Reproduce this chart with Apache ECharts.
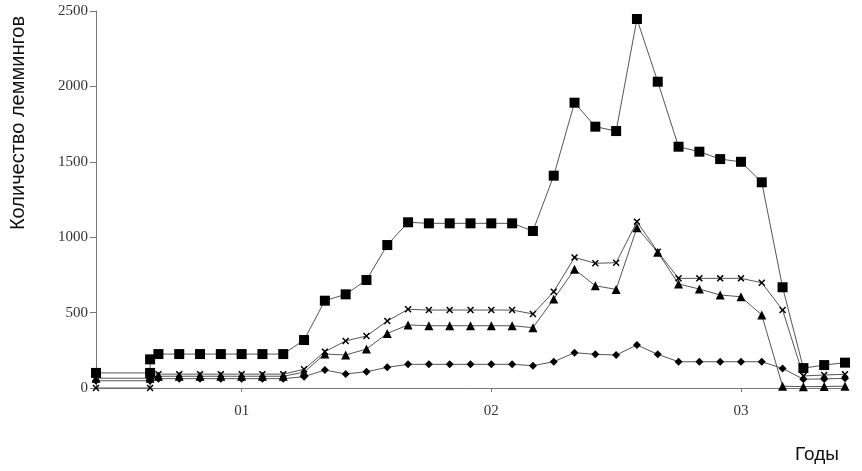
<!DOCTYPE html>
<html>
<head>
<meta charset="utf-8">
<script src="https://cdn.jsdelivr.net/npm/echarts@6/dist/echarts.min.js"></script>
<style>
html,body{margin:0;padding:0;background:#fff;}
#chart{width:862px;height:471px;}
</style>
</head>
<body>
<div id="chart"></div>
<script>
// x positions in months relative to the "01" tick
var months = [-7, -4.4, -4.4, -4, -3, -2, -1, 0, 1, 2, 3, 4, 5, 6, 7, 8, 9, 10, 11, 12, 13, 14, 15, 16, 17, 18, 19, 20, 21, 22, 23, 24, 25, 26, 27, 28, 29];
var squares = [100, 100, 190, 225, 225, 225, 225, 225, 225, 225, 318, 579, 621, 716, 948, 1099, 1092, 1092, 1092, 1092, 1092, 1041, 1408, 1892, 1733, 1704, 2447, 2031, 1600, 1567, 1518, 1500, 1364, 668, 132, 152, 168];
var crosses = [0, 0, 92, 92, 92, 92, 92, 92, 92, 92, 124, 241, 312, 345, 444, 522, 517, 517, 517, 517, 517, 491, 639, 866, 827, 831, 1103, 904, 727, 727, 727, 727, 698, 517, 80, 86, 91];
var triangles = [65, 65, 78, 78, 78, 78, 78, 78, 78, 78, 105, 225, 219, 258, 362, 418, 413, 413, 413, 413, 413, 400, 590, 787, 678, 654, 1063, 900, 690, 656, 617, 605, 484, 12, 9, 10, 12];
var diamonds = [48, 48, 62, 62, 62, 62, 62, 62, 62, 62, 75, 119, 93, 108, 137, 157, 157, 157, 157, 157, 157, 148, 174, 234, 223, 219, 285, 223, 174, 174, 174, 174, 174, 130, 58, 60, 64];
var yearTicks = [0, 12, 24];
var yearLabels = ['01', '02', '03'];

function pairs(vals) { return months.map(function (m, i) { return [m, vals[i]]; }); }

var crossPath = 'path://M0,1.5L1.5,0L5,3.5L8.5,0L10,1.5L6.5,5L10,8.5L8.5,10L5,6.5L1.5,10L0,8.5L3.5,5Z';

function mk(name, vals, symbol, size) {
  return {
    name: name, type: 'line', data: pairs(vals),
    symbol: symbol, symbolSize: size, showAllSymbol: true,
    lineStyle: { color: '#555', width: 1 },
    itemStyle: { color: '#000' },
    animation: false, z: 3
  };
}

var chart = echarts.init(document.getElementById('chart'));
chart.setOption({
  backgroundColor: '#fff',
  animation: false,
  grid: { left: 96, right: 17, top: 11, bottom: 83 },
  xAxis: {
    type: 'value', min: -7, max: 29,
    axisLine: { show: true, onZero: false, lineStyle: { color: '#777', width: 1 } },
    axisTick: { show: true, customValues: yearTicks, length: 4, lineStyle: { color: '#777' } },
    axisLabel: {
      customValues: yearTicks, margin: 16,
      fontFamily: 'Liberation Serif', fontSize: 15, color: '#333',
      formatter: function (v) { var i = yearTicks.indexOf(v); return i >= 0 ? yearLabels[i] : ''; }
    },
    splitLine: { show: false }
  },
  yAxis: {
    type: 'value', min: 0, max: 2500, interval: 500,
    axisLine: { show: true, onZero: false, lineStyle: { color: '#777', width: 1 } },
    axisTick: { show: true, length: 6, lineStyle: { color: '#777' } },
    axisLabel: { margin: 8, fontFamily: 'Liberation Serif', fontSize: 15, color: '#333',
      formatter: function (v) { return String(v); } },
    splitLine: { show: false }
  },
  graphic: [
    { type: 'text', x: 18, y: 123, rotation: Math.PI / 2,
      style: { text: 'Количество леммингов', fontFamily: 'Liberation Sans', fontSize: 20, fill: '#111', align: 'center', verticalAlign: 'middle' } },
    { type: 'text', x: 817, y: 455,
      style: { text: 'Годы', fontFamily: 'Liberation Sans', fontSize: 19, fill: '#111', align: 'center', verticalAlign: 'middle' } }
  ],
  series: [
    mk('diamonds', diamonds, 'diamond', 8),
    mk('triangles', triangles, 'triangle', 9),
    mk('crosses', crosses, crossPath, 7),
    mk('squares', squares, 'rect', 10)
  ]
});
</script>
</body>
</html>
